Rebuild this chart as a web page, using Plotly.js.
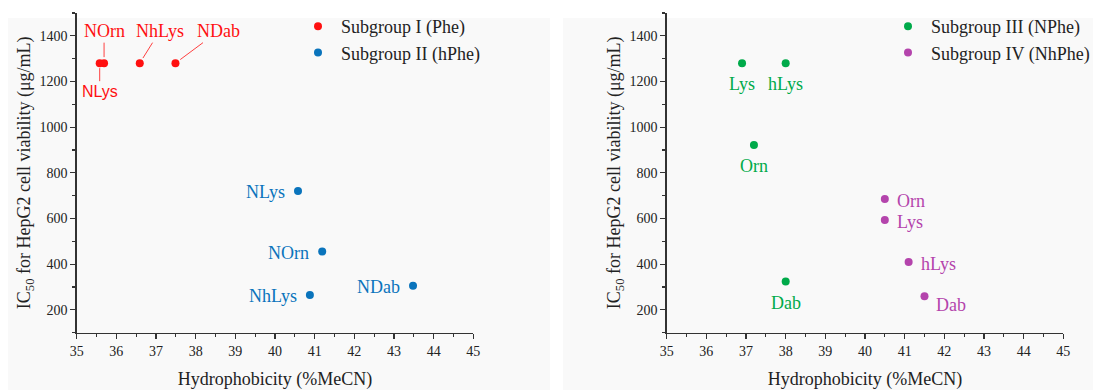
<!DOCTYPE html>
<html>
<head>
<meta charset="utf-8">
<script src="https://cdn.plot.ly/plotly-3.0.1.min.js"></script>
<style>html,body{margin:0;padding:0;background:#fff;}#chart{width:1093px;height:390px;}</style>
</head>
<body>
<div id="chart"></div>
<script>
// ---- data ----
const sgI_name = 'Subgroup I (Phe)';
const sgI_labels = ['NOrn', 'NLys', 'NhLys', 'NDab'];
const sgI_x = [35.69, 35.58, 36.59, 37.49];
const sgI_y = [1280, 1280, 1280, 1280];

const sgII_name = 'Subgroup II (hPhe)';
const sgII_labels = ['NLys', 'NOrn', 'NhLys', 'NDab'];
const sgII_x = [40.58, 41.19, 40.88, 43.48];
const sgII_y = [720, 455, 265, 305];

const sgIII_name = 'Subgroup III (NPhe)';
const sgIII_labels = ['Lys', 'hLys', 'Orn', 'Dab'];
const sgIII_x = [36.9, 38.0, 37.2, 38.0];
const sgIII_y = [1280, 1280, 922, 324];

const sgIV_name = 'Subgroup IV (NhPhe)';
const sgIV_labels = ['Orn', 'Lys', 'hLys', 'Dab'];
const sgIV_x = [40.5, 40.5, 41.1, 41.5];
const sgIV_y = [685, 593, 410, 260];

const xTitle = 'Hydrophobicity (%MeCN)';
const yTitle = 'IC<sub>50</sub> for HepG2 cell viability (μg/mL)';

// ---- styles ----
const RED = '#ff1010', BLUE = '#0a74bc', GREEN = '#00aa4a', PURPLE = '#b444ac';
const SERIF = '"Liberation Serif", serif';
const SANS = '"Liberation Sans", sans-serif';
const TXT = '#222222';
const W = 1093, H = 390;
const FS = 18;

// label placement (pixel offsets), separate from data
const sgI_place = [
  {ax: 0, ay: -32, standoff: 6, sans: false},
  {ax: 0, ay: 28, standoff: 5, sans: true},
  {ax: 20, ay: -32, standoff: 6, sans: false},
  {ax: 43, ay: -32, standoff: 6, sans: false}
];
const sgIV_yshift = [-2, -2, -2, -9];

function mk(name, x, y, color, xa, ya, leg) {
  return {type: 'scatter', mode: 'markers', name: name, x: x, y: y,
    xaxis: xa, yaxis: ya, legend: leg,
    marker: {color: color, size: 8}, hoverinfo: 'x+y'};
}
const traces = [
  mk(sgI_name, sgI_x, sgI_y, RED, 'x', 'y', 'legend'),
  mk(sgII_name, sgII_x, sgII_y, BLUE, 'x', 'y', 'legend'),
  mk(sgIII_name, sgIII_x, sgIII_y, GREEN, 'x2', 'y2', 'legend2'),
  mk(sgIV_name, sgIV_x, sgIV_y, PURPLE, 'x2', 'y2', 'legend2')
];

const ann = [];
sgI_labels.forEach((t, i) => {
  const p = sgI_place[i];
  ann.push({x: sgI_x[i], y: sgI_y[i], xref: 'x', yref: 'y', text: t,
    showarrow: true, arrowhead: 0, arrowwidth: 0.8, arrowcolor: RED,
    ax: p.ax, ay: p.ay, standoff: p.standoff,
    font: {family: p.sans ? SANS : SERIF, size: p.sans ? 16 : FS, color: RED}});
});
sgII_labels.forEach((t, i) => {
  ann.push({x: sgII_x[i], y: sgII_y[i], xref: 'x', yref: 'y', text: t,
    showarrow: false, xanchor: 'right', xshift: -11, yshift: -1,
    font: {family: SERIF, size: FS, color: BLUE}});
});
sgIII_labels.forEach((t, i) => {
  ann.push({x: sgIII_x[i], y: sgIII_y[i], xref: 'x2', yref: 'y2', text: t,
    showarrow: false, xanchor: 'center', yshift: -21,
    font: {family: SERIF, size: FS, color: GREEN}});
});
sgIV_labels.forEach((t, i) => {
  ann.push({x: sgIV_x[i], y: sgIV_y[i], xref: 'x2', yref: 'y2', text: t,
    showarrow: false, xanchor: 'left', xshift: 10, yshift: sgIV_yshift[i],
    font: {family: SERIF, size: FS, color: PURPLE}});
});

function xax(dom, anchor) {
  return {domain: dom, anchor: anchor, range: [35, 45], dtick: 1, tick0: 35,
    showgrid: false, zeroline: false, showline: true, linecolor: '#333', linewidth: 1.5,
    ticks: 'outside', ticklen: 5, tickwidth: 1.2, tickcolor: '#333',
    minor: {dtick: 0.5, ticks: 'outside', ticklen: 3, tickwidth: 1.2, tickcolor: '#333'},
    tickfont: {family: SERIF, size: 14, color: TXT},
    title: {text: xTitle, standoff: 16, font: {family: SERIF, size: FS, color: TXT}},
    automargin: false, fixedrange: true};
}
function yax(dom, anchor) {
  return {domain: dom, anchor: anchor, range: [100, 1500], dtick: 200, tick0: 0,
    showgrid: false, zeroline: false, showline: true, linecolor: '#333', linewidth: 1.5,
    ticks: 'outside', ticklen: 5, tickwidth: 1.2, tickcolor: '#333',
    minor: {dtick: 100, ticks: 'outside', ticklen: 3, tickwidth: 1.2, tickcolor: '#333'},
    tickfont: {family: SERIF, size: 14, color: TXT},
    title: {text: yTitle, standoff: 4, font: {family: SERIF, size: FS, color: TXT}},
    automargin: false, fixedrange: true};
}
const yDom = [1 - 332.7 / H, 1 - 12.9 / H];

const layout = {
  width: W, height: H,
  margin: {l: 0, r: 0, t: 0, b: 0, pad: 0, autoexpand: false},
  paper_bgcolor: '#ffffff', plot_bgcolor: 'rgba(0,0,0,0)',
  showlegend: true,
  xaxis: xax([76.7 / W, 473.3 / W], 'y'),
  yaxis: yax(yDom, 'x'),
  xaxis2: xax([666.7 / W, 1063.3 / W], 'y2'),
  yaxis2: yax(yDom, 'x2'),
  legend: {x: 295 / W, y: 1 - 8 / H, xanchor: 'left', yanchor: 'top', itemwidth: 36,
    bgcolor: 'rgba(0,0,0,0)', borderwidth: 0,
    font: {family: SERIF, size: FS, color: TXT}},
  legend2: {x: 885 / W, y: 1 - 8 / H, xanchor: 'left', yanchor: 'top', itemwidth: 36,
    bgcolor: 'rgba(0,0,0,0)', borderwidth: 0,
    font: {family: SERIF, size: FS, color: TXT}},
  shapes: [
    {type: 'rect', xref: 'paper', yref: 'paper', x0: 8 / W, x1: 550 / W, y0: 0, y1: 1 - 18 / H,
      fillcolor: '#f9f9f9', line: {width: 0}, layer: 'below'},
    {type: 'rect', xref: 'paper', yref: 'paper', x0: 563 / W, x1: 1, y0: 0, y1: 1 - 18 / H,
      fillcolor: '#f9f9f9', line: {width: 0}, layer: 'below'}
  ],
  annotations: ann
};

Plotly.newPlot('chart', traces, layout, {displayModeBar: false, staticPlot: true});
</script>
</body>
</html>
